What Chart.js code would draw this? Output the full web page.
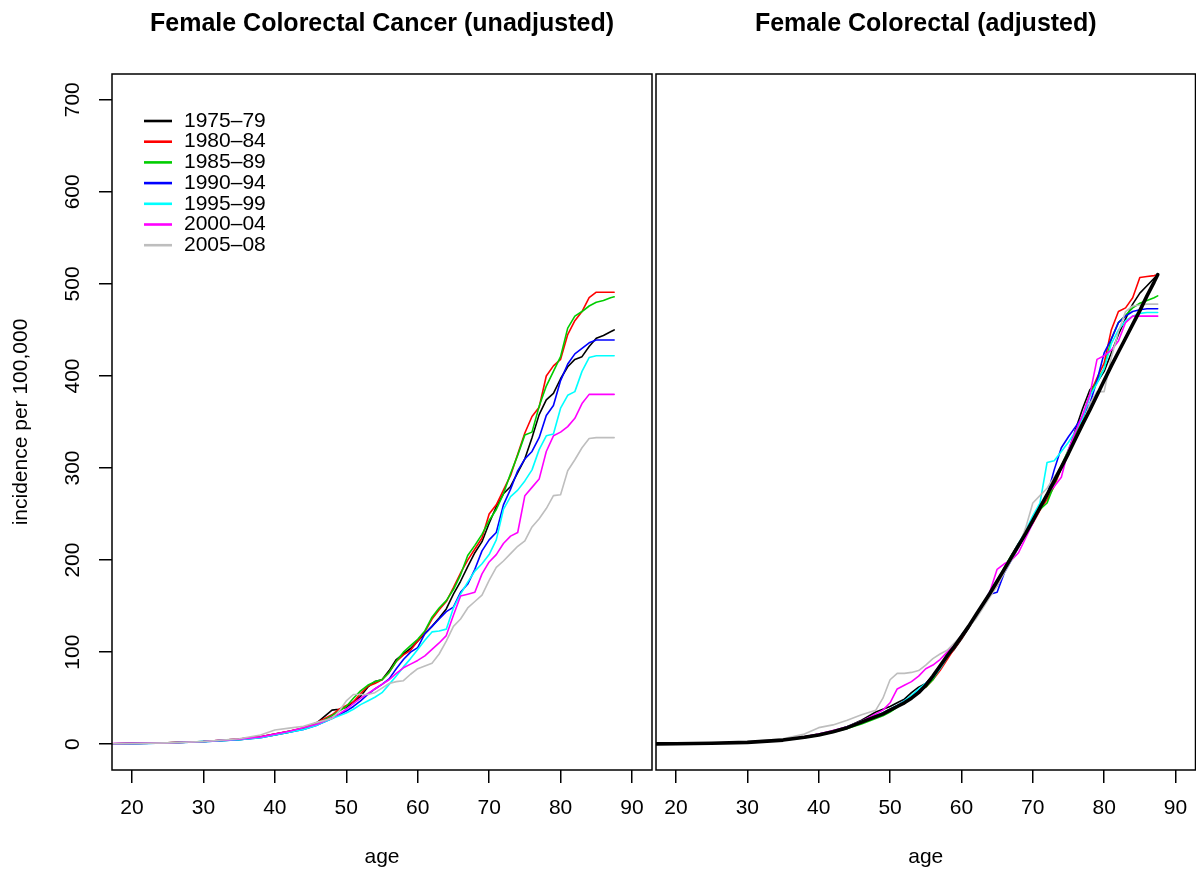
<!DOCTYPE html>
<html>
<head>
<meta charset="utf-8">
<script src="https://cdn.jsdelivr.net/npm/chart.js@4.4.0/dist/chart.umd.min.js"></script>
<style>
  body { margin: 0; background: #fff; width: 1196px; height: 873px; overflow: hidden; position: relative; }
  #leftBox { position: absolute; left: 0; top: 0; width: 654px; height: 873px; }
  #rightBox { position: absolute; left: 654px; top: 0; width: 542px; height: 873px; }
</style>
</head>
<body>
<div id="leftBox"><canvas id="chartLeft"></canvas></div>
<div id="rightBox"><canvas id="chartRight"></canvas></div>
<script>
// age grid shared by every series
const ages = [15, 20, 25, 30, 35, 38, 40, 42, 44, 46, 48,
  49, 50, 51, 52, 53, 54, 55, 56, 57, 58,
  59, 60, 61, 62, 63, 64, 65, 66, 67, 68,
  69, 70, 71, 72, 73, 74, 75, 76, 77, 78,
  79, 80, 81, 82, 83, 84, 85, 86, 87, 87.5];

const periods = ['1975–79', '1980–84', '1985–89', '1990–94', '1995–99', '2000–04', '2005–08'];
const colors = ['#000000', '#ff0000', '#00cd00', '#0000ff', '#00ffff', '#ff00ff', '#bebebe'];

const xTicks = [20, 30, 40, 50, 60, 70, 80, 90];
const yTicks = [0, 100, 200, 300, 400, 500, 600, 700];

// left panel: unadjusted incidence per 100,000
const raw7579 = [0.3, 0.8, 1.6, 3, 5.5, 8, 11, 14, 17, 24, 37,
  38, 40, 46, 52, 62, 68, 70, 80, 92, 98,
  104, 112, 120, 128, 137, 147, 163, 177, 193, 208,
  220, 240, 258, 272, 280, 295, 310, 333, 358, 374,
  381, 397, 410, 418, 421, 432, 441, 444, 448, 450];
const raw8084 = [0.3, 0.9, 1.5, 3, 5.5, 8, 11, 14, 18, 24, 32,
  38, 42, 46, 55, 63, 66, 70, 78, 90, 97,
  102, 112, 122, 136, 146, 155, 170, 186, 200, 212,
  224, 250, 260, 276, 292, 315, 338, 356, 366, 400,
  411, 418, 445, 460, 470, 485, 491, 491, 491, 491];
const raw8589 = [0.3, 0.8, 1.5, 3, 5, 7.5, 10, 13, 17, 22, 31,
  36, 41, 50, 58, 64, 68, 70, 78, 90, 100,
  107, 114, 123, 138, 148, 156, 168, 184, 205, 216,
  228, 243, 255, 272, 294, 314, 336, 339, 367, 389,
  405, 421, 452, 465, 470, 476, 480, 482, 485, 486];
const raw9094 = [0.3, 0.7, 1.4, 2.8, 5, 7, 10, 13, 16, 21, 28,
  32, 36, 41, 47, 54, 60, 65, 71, 82, 92,
  100, 105, 120, 128, 136, 144, 149, 165, 174, 190,
  210, 222, 230, 260, 277, 297, 310, 318, 333, 357,
  368, 395, 413, 424, 430, 436, 439, 439, 439, 439];
const raw9599 = [0.3, 0.7, 1.4, 2.8, 5, 7, 10, 13, 16, 21, 28,
  31, 34, 38, 43, 47, 51, 56, 65, 74, 84,
  93, 103, 113, 122, 123, 125, 148, 163, 176, 188,
  196, 206, 222, 255, 269, 276, 286, 298, 320, 335,
  337, 365, 379, 383, 405, 420, 422, 422, 422, 422];
const raw0004 = [0.4, 0.9, 1.5, 3, 5.5, 8, 11, 14, 18, 22, 29,
  33, 38, 44, 50, 55, 60, 65, 70, 77, 83,
  87, 91, 96, 103, 110, 118, 140, 161, 163, 165,
  185, 198, 206, 218, 226, 230, 270, 279, 288, 318,
  335, 339, 345, 354, 370, 380, 380, 380, 380, 380];
const raw0508 = [0.3, 0.8, 1.5, 3, 6, 10, 15.5, 17.5, 19.5, 24, 28,
  36, 47, 54, 54, 54, 56, 61, 66, 68, 69,
  76, 82, 85, 88, 98, 112, 128, 136, 148, 155,
  162, 178, 192, 199, 207, 215, 221, 236, 245, 256,
  270, 271, 297, 309, 322, 332, 333, 333, 333, 333];

// right panel: adjusted incidence and the fitted curve
const adj7579 = [0.2, 0.5, 1.1, 2.2, 4.8, 8, 11, 14, 19, 26, 35,
  38, 41, 45, 49, 56, 62, 66, 74, 85, 95,
  103, 114, 126, 138, 150, 162, 175, 190, 205, 218,
  228, 242, 258, 272, 285, 300, 318, 342, 365, 385,
  393, 405, 425, 445, 462, 478, 490, 498, 506, 510];
const adj8084 = [0.2, 0.5, 1.1, 2.1, 4.5, 7.5, 10, 13.5, 18, 23, 29,
  33, 37, 42, 47, 52, 57, 62, 70, 80, 92,
  104, 115, 127, 138, 150, 162, 172, 188, 202, 214,
  228, 240, 254, 266, 280, 300, 318, 334, 352, 380,
  398, 414, 450, 470, 474, 485, 507, 508, 509, 510];
const adj8589 = [0.2, 0.5, 1.0, 2.0, 4.4, 7.2, 9.8, 13, 17, 22, 28,
  31, 35, 40, 46, 52, 58, 62, 70, 83, 95,
  106, 118, 128, 140, 152, 164, 176, 192, 205, 215,
  230, 243, 255, 262, 282, 302, 320, 338, 355, 380,
  395, 408, 440, 458, 466, 474, 479, 482, 485, 487];
const adj9094 = [0.2, 0.5, 1.0, 2.0, 4.6, 7.6, 10.5, 14, 18.5, 24, 31,
  34, 38, 42, 47, 52, 58, 66, 74, 85, 96,
  106, 118, 128, 140, 150, 163, 165, 186, 200, 214,
  228, 244, 258, 270, 298, 322, 334, 345, 356, 370,
  395, 425, 440, 458, 465, 470, 472, 473, 473, 473];
const adj9599 = [0.2, 0.5, 1.0, 2.0, 4.6, 7.6, 10.5, 14, 19, 25, 31,
  34, 38, 42, 47, 53, 60, 66, 72, 82, 94,
  106, 118, 128, 140, 152, 166, 178, 190, 204, 218,
  232, 248, 262, 306, 308, 318, 328, 340, 354, 378,
  392, 408, 435, 450, 460, 465, 468, 469, 469, 469];
const adj0004 = [0.3, 0.7, 1.3, 2.4, 5, 8, 11, 15, 19, 25, 33,
  37, 45, 60, 64, 68, 74, 82, 86, 92, 100,
  108, 118, 128, 140, 152, 166, 190, 196, 200, 208,
  224, 240, 256, 272, 280, 290, 320, 340, 358, 380,
  418, 422, 428, 438, 458, 465, 465, 465, 465, 465];
const adj0508 = [0.3, 0.7, 1.3, 2.5, 6, 11, 18, 21, 26, 32, 37,
  50, 70, 77, 77, 78, 80, 86, 93, 98, 102,
  110, 118, 127, 136, 148, 160, 172, 186, 200, 214,
  235, 262, 270, 278, 290, 302, 318, 332, 348, 370,
  383, 383, 420, 448, 470, 476, 477, 478, 478, 478];
const fitted = [0.2, 0.5, 1, 2, 4.5, 7.5, 10, 13.5, 18, 24, 30,
  33, 37, 41, 45, 50, 56, 64, 74, 85, 96,
  106, 117, 128, 140, 152, 164, 177, 190, 203, 216,
  229, 243, 257, 271, 286, 301, 316, 332, 348, 363,
  379, 395, 411, 426, 441, 456, 471, 487, 502, 510];

const rawSeries = [raw7579, raw8084, raw8589, raw9094, raw9599, raw0004, raw0508];
const adjSeries = [adj7579, adj8084, adj8589, adj9094, adj9599, adj0004, adj0508];

Chart.defaults.font.family = '"Liberation Sans", Arial, Helvetica, sans-serif';
Chart.defaults.color = '#000';

function toPoints(vals) {
  return ages.map((a, i) => ({x: a, y: vals[i]}));
}

function lineSets(list) {
  return list.map((vals, i) => ({
    label: periods[i],
    data: toPoints(vals),
    borderColor: colors[i],
    backgroundColor: colors[i],
    borderWidth: 1.6,
    pointRadius: 0,
    tension: 0,
    fill: false,
    borderJoinStyle: 'round',
    borderCapStyle: 'round',
    order: 10 - i
  }));
}

// box, title and legend, drawn the way the R plot does them
const panelDecor = {
  id: 'panelDecor',
  afterDraw(chart, args, opts) {
    const ctx = chart.ctx;
    const a = chart.chartArea;
    ctx.save();
    ctx.strokeStyle = '#000';
    ctx.lineWidth = 1.5;
    ctx.strokeRect(a.left, a.top, a.right - a.left, a.bottom - a.top);
    ctx.fillStyle = '#000';
    ctx.font = 'bold 25px "Liberation Sans", Arial, sans-serif';
    ctx.textAlign = 'center';
    ctx.textBaseline = 'alphabetic';
    ctx.fillText(opts.title, (a.left + a.right) / 2, 31);
    if (opts.legend) {
      ctx.font = '21px "Liberation Sans", Arial, sans-serif';
      ctx.textAlign = 'left';
      ctx.textBaseline = 'middle';
      chart.data.datasets.forEach((ds, i) => {
        const y = 121 + i * 20.7;
        ctx.strokeStyle = ds.borderColor;
        ctx.lineWidth = 2.6;
        ctx.beginPath();
        ctx.moveTo(144, y);
        ctx.lineTo(172, y);
        ctx.stroke();
        ctx.fillText(ds.label, 184, y);
      });
    }
    ctx.restore();
  }
};

function xAxis() {
  return {
    type: 'linear',
    min: 17.2,
    max: 92.8,
    afterBuildTicks: s => { s.ticks = xTicks.map(v => ({value: v})); },
    afterFit: s => { s.height = 103; s.paddingLeft = 0; s.paddingRight = 0; },
    grid: { display: true, drawOnChartArea: false, drawTicks: true, tickLength: 13, color: '#000', lineWidth: 1.5 },
    border: { display: false },
    ticks: { font: { size: 21 }, color: '#000', padding: 13, autoSkip: false, maxRotation: 0, minRotation: 0 },
    title: { display: true, text: 'age', font: { size: 21 }, color: '#000', padding: { top: 0, bottom: 3 } }
  };
}

const leftChart = new Chart(document.getElementById('chartLeft'), {
  type: 'line',
  data: { datasets: lineSets(rawSeries) },
  options: {
    responsive: true,
    maintainAspectRatio: false,
    animation: false,
    layout: { padding: { top: 74, right: 2, left: 0, bottom: 0 } },
    plugins: {
      legend: { display: false },
      tooltip: { enabled: false },
      panelDecor: { title: 'Female Colorectal Cancer (unadjusted)', legend: true }
    },
    scales: {
      x: xAxis(),
      y: {
        type: 'linear',
        min: -28,
        max: 728,
        afterBuildTicks: s => { s.ticks = yTicks.map(v => ({value: v})); },
        afterFit: s => { s.width = 112; s.paddingTop = 0; s.paddingBottom = 0; },
        grid: { display: true, drawOnChartArea: false, drawTicks: true, tickLength: 13, color: '#000', lineWidth: 1.5 },
        border: { display: false },
        ticks: { font: { size: 21 }, color: '#000', padding: 8.5, autoSkip: false, minRotation: 90, maxRotation: 90, crossAlign: 'center' },
        title: { display: true, text: 'incidence per 100,000', font: { size: 21 }, color: '#000', padding: { top: 9, bottom: 0 } }
      }
    }
  },
  plugins: [panelDecor]
});

const rightSets = lineSets(adjSeries);
rightSets.push({
  label: 'fitted',
  data: toPoints(fitted),
  borderColor: '#000',
  backgroundColor: '#000',
  borderWidth: 3.6,
  pointRadius: 0,
  tension: 0,
  fill: false,
  borderJoinStyle: 'round',
  borderCapStyle: 'round',
  order: 0
});

const rightChart = new Chart(document.getElementById('chartRight'), {
  type: 'line',
  data: { datasets: rightSets },
  options: {
    responsive: true,
    maintainAspectRatio: false,
    animation: false,
    layout: { padding: { top: 74, right: 0.5, left: 2, bottom: 0 } },
    plugins: {
      legend: { display: false },
      tooltip: { enabled: false },
      panelDecor: { title: 'Female Colorectal (adjusted)', legend: false }
    },
    scales: {
      x: xAxis(),
      y: { type: 'linear', display: false, min: -28, max: 728 }
    }
  },
  plugins: [panelDecor]
});
</script>
</body>
</html>
